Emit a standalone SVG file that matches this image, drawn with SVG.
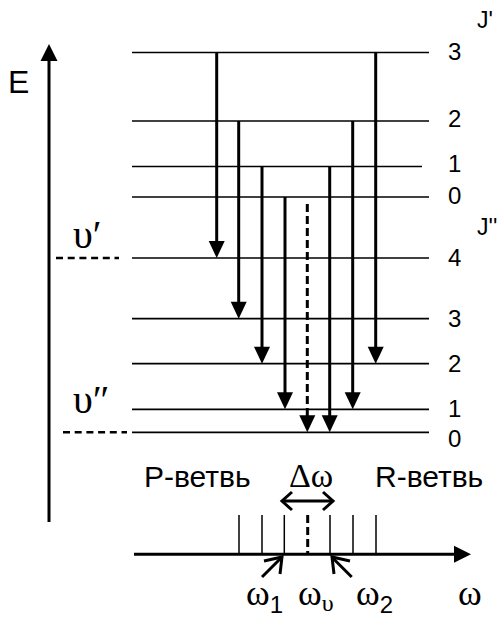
<svg xmlns="http://www.w3.org/2000/svg" width="500" height="617" viewBox="0 0 500 617">
<style>
.lvl{stroke:#000;stroke-width:1.7;fill:none}
.tr{stroke:#000;stroke-width:3;fill:none}
.trd{stroke:#000;stroke-width:3;fill:none;stroke-dasharray:8 4}
.hd{fill:#000;stroke:none}
.dash{stroke:#000;stroke-width:2.5;fill:none;stroke-dasharray:7 4.7}
.tick{stroke:#000;stroke-width:1.5;fill:none}
.chev{stroke:#000;stroke-width:3;fill:none;stroke-linecap:butt;stroke-linejoin:miter}
.s{font-family:"Liberation Sans",Arial,sans-serif;fill:#000}
.g{font-family:"Liberation Serif","Times New Roman",serif;fill:#000}
.num{font-size:24px}
</style>
<defs>
<path id="ah" d="M-8,-17 L8,-17 L0,0 Z"/>
</defs>
<g id="energy-axis">
<line x1="49" y1="522" x2="49" y2="58" class="tr"/>
<path d="M40.5,61 L57.5,61 L49,44 Z" class="hd"/>
<text x="8" y="93" class="s" font-size="32">E</text>
</g>
<g id="upper-levels">
<line x1="132" y1="52.5" x2="429" y2="52.5" class="lvl"/>
<line x1="132" y1="121" x2="429" y2="121" class="lvl"/>
<line x1="132" y1="166.5" x2="422" y2="166.5" class="lvl"/>
<line x1="132" y1="197" x2="429" y2="197" class="lvl"/>
<text x="477" y="28" class="s" font-size="23">J'</text>
<text x="448" y="60" class="s num">3</text>
<text x="448" y="127" class="s num">2</text>
<text x="448" y="172" class="s num">1</text>
<text x="448" y="204" class="s num">0</text>
</g>
<g id="lower-levels">
<line x1="132" y1="258" x2="429" y2="258" class="lvl"/>
<line x1="132" y1="318.7" x2="429" y2="318.7" class="lvl"/>
<line x1="132" y1="363.7" x2="429" y2="363.7" class="lvl"/>
<line x1="132" y1="409.3" x2="429" y2="409.3" class="lvl"/>
<line x1="132" y1="432.3" x2="429" y2="432.3" class="lvl"/>
<text x="477" y="235" class="s" font-size="23">J''</text>
<text x="448" y="266" class="s num">4</text>
<text x="448" y="327" class="s num">3</text>
<text x="448" y="372" class="s num">2</text>
<text x="448" y="417" class="s num">1</text>
<text x="448" y="447" class="s num">0</text>
</g>
<g id="vib-levels">
<line x1="56" y1="258" x2="119" y2="258" class="dash"/>
<line x1="63" y1="432.3" x2="127" y2="432.3" class="dash"/>
<text x="73" y="248" class="g" font-size="40">υ′</text>
<text x="73" y="413" class="g" font-size="40">υ″</text>
</g>
<g id="transitions">
<line x1="216.7" y1="52.5" x2="216.7" y2="243" class="tr"/>
<use href="#ah" x="216.7" y="258" class="hd"/>
<line x1="238.7" y1="121" x2="238.7" y2="303" class="tr"/>
<use href="#ah" x="238.7" y="318.7" class="hd"/>
<line x1="262" y1="166.5" x2="262" y2="348" class="tr"/>
<use href="#ah" x="262" y="363.7" class="hd"/>
<line x1="285" y1="197" x2="285" y2="394" class="tr"/>
<use href="#ah" x="285" y="409.3" class="hd"/>
<line x1="307.3" y1="204" x2="307.3" y2="417" class="trd"/>
<use href="#ah" x="307.3" y="432.3" class="hd"/>
<line x1="329.7" y1="166.5" x2="329.7" y2="417" class="tr"/>
<use href="#ah" x="329.7" y="432.3" class="hd"/>
<line x1="352.7" y1="121" x2="352.7" y2="394" class="tr"/>
<use href="#ah" x="352.7" y="409.3" class="hd"/>
<line x1="375.7" y1="52.5" x2="375.7" y2="348" class="tr"/>
<use href="#ah" x="375.7" y="363.7" class="hd"/>
</g>
<g id="spectrum">
<line x1="134" y1="554.3" x2="456" y2="554.3" class="tr"/>
<path d="M454,545.8 L454,562.8 L471,554.3 Z" class="hd"/>
<line x1="239" y1="515" x2="239" y2="554" class="tick"/>
<line x1="262" y1="515" x2="262" y2="554" class="tick"/>
<line x1="284.3" y1="515" x2="284.3" y2="554" class="tick"/>
<line x1="307.7" y1="515" x2="307.7" y2="554" class="trd" stroke-dasharray="7 4"/>
<line x1="330" y1="515" x2="330" y2="554" class="tick"/>
<line x1="353" y1="515" x2="353" y2="554" class="tick"/>
<line x1="376" y1="515" x2="376" y2="554" class="tick"/>
<line x1="282" y1="501" x2="333" y2="501" class="chev"/>
<path d="M292,492 L282,501 L292,510" class="chev"/>
<path d="M323,492 L333,501 L323,510" class="chev"/>
<line x1="262" y1="577" x2="281" y2="558" class="chev"/>
<path d="M264,561 L282,557 L280,574" class="chev"/>
<line x1="351.7" y1="577" x2="332.7" y2="558" class="chev"/>
<path d="M350,561 L332,557 L334,574" class="chev"/>
<text x="144" y="487" class="s" font-size="30">P-ветвь</text>
<text x="289" y="487" class="g" font-size="34">Δω</text>
<text x="375" y="487" class="s" font-size="30">R-ветвь</text>
<text x="246" y="605" class="g" font-size="36">ω<tspan class="s" font-size="24" dy="8">1</tspan></text>
<text x="298" y="605" class="g" font-size="36">ω<tspan font-size="24" dy="6">υ</tspan></text>
<text x="356" y="605" class="g" font-size="36">ω<tspan class="s" font-size="24" dy="8">2</tspan></text>
<text x="458" y="605" class="g" font-size="36">ω</text>
</g>
</svg>
